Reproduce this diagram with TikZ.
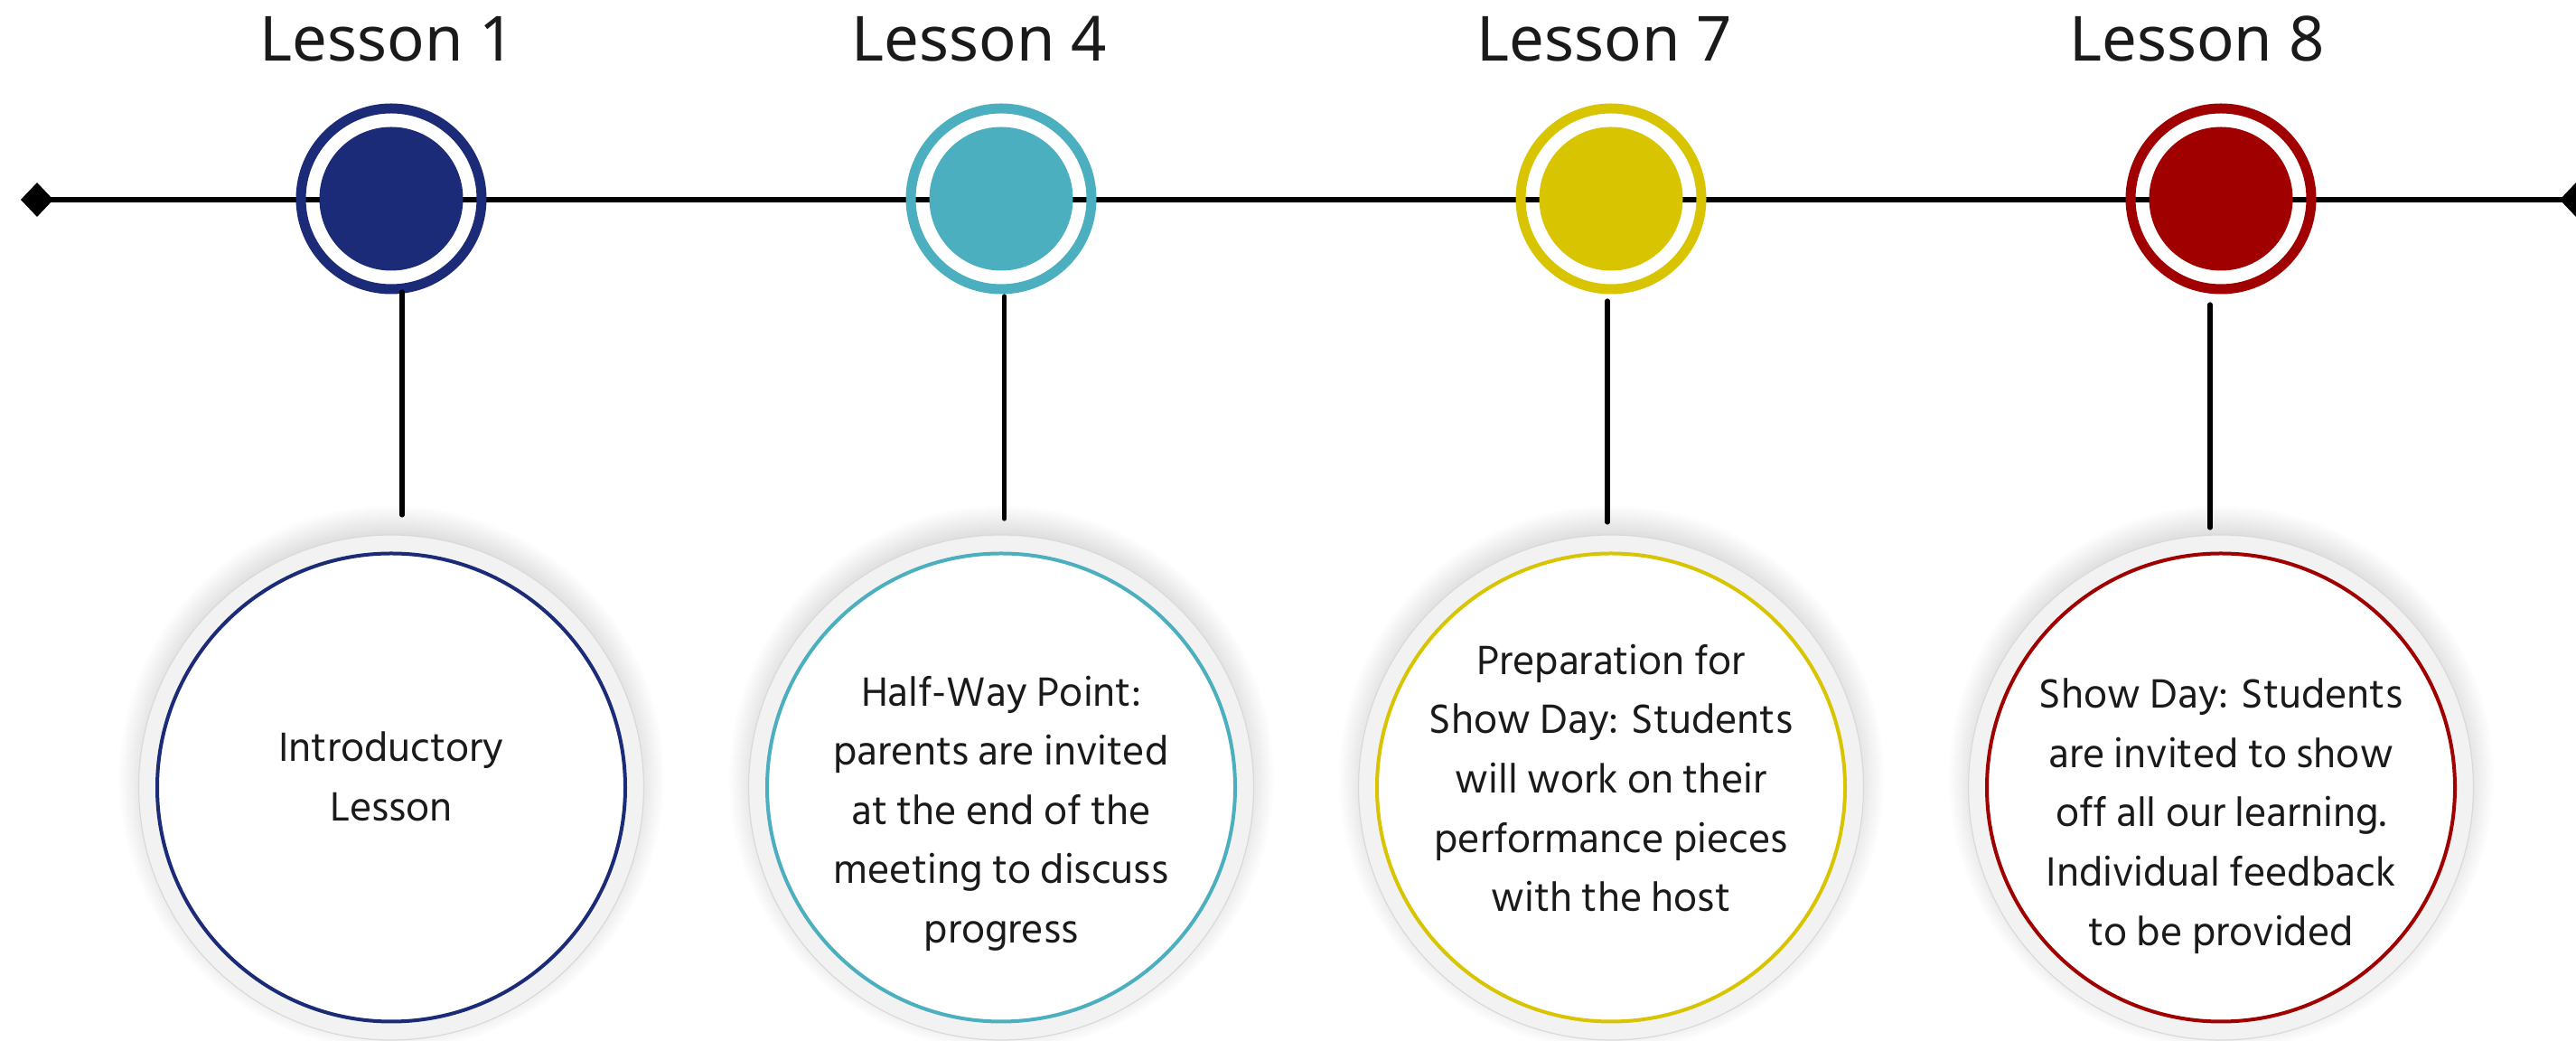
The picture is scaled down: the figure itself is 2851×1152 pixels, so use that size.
\documentclass[tikz,border=0pt]{standalone}
\usepackage{fontspec}
\setmainfont{Hind Siliguri}
\newfontfamily\headfont{Noto Sans}
\usetikzlibrary{arrows.meta,shadows}
\definecolor{lsn1}{HTML}{1B2B78}
\definecolor{lsn4}{HTML}{4BAFBF}
\definecolor{lsn7}{HTML}{D8C400}
\definecolor{lsn8}{HTML}{A00000}
\definecolor{ink}{HTML}{1A1A1A}
\definecolor{halo}{HTML}{F2F2F2}
\begin{document}
\begin{tikzpicture}[
  x=.25pt, y=-.25pt,
  milestone/.style={circle, minimum size=50pt, inner sep=0pt, outer sep=0pt,
    draw=#1, line width=2.75pt,
    path picture={\fill [#1] (path picture bounding box.center) circle (19.875pt);}},
  bubble/.style={circle, minimum size=139.75pt, inner sep=0pt, outer sep=0pt,
    fill=halo, draw=black!15, line width=.3pt,
    circular drop shadow={shadow xshift=0pt, shadow yshift=2.5pt,
      shadow scale=1.08, opacity=.35}},
  heading/.style={anchor=base, text=ink, font=\headfont\fontsize{17.2}{20}\selectfont},
  blurb/.style={align=center, text=ink, font=\fontsize{11.6}{16.4}\selectfont},
  stem/.style={line width=1.3pt, line cap=round}]
\useasboundingbox (0,0) rectangle (2851,1152);
\coordinate (tl-start) at (23,221);
\coordinate (tl-end) at (2869,221);
\draw [{Diamond[length=9pt,width=9.5pt]}-{Diamond[length=9pt,width=9.5pt]}, line width=1.6pt]
  (tl-start) -- (tl-end);
\foreach \i/\xm/\xh/\col/\dx/\st/\sb/\dy/\txt in {
  1/433/429/lsn1/12/3/22/3.1pt/{Introductory\\Lesson},
  4/1108/1084/lsn4/3.5/8/18/-7.2pt/{Half-Way Point:\\parents are invited\\at the end of the\\meeting to discuss\\progress},
  7/1783/1776/lsn7/-4/13/14/2.6pt/{Preparation for\\Show Day: Students\\will work on their\\performance pieces\\with the host},
  8/2458/2431.5/lsn8/-12/17/8/-7.9pt/{Show Day: Students\\are invited to show\\off all our learning.\\Individual feedback\\to be provided}}{
  \node [heading] (head\i) at (\xh,68) {Lesson \i};
  \node [milestone=\col] (mark\i) at (\xm,220) {};
  \node [bubble] (card\i) at (\xm,871.5) {};
  \draw [\col, line width=1pt, fill=white] (card\i) circle (64.75pt);
  \node [blurb] (note\i) at ([yshift=\dy]card\i.center) {\txt};
  \draw [stem, shorten <=\st*.25pt, shorten >=\sb*.25pt]
    ([xshift=\dx*.25pt]mark\i.south) -- ([xshift=\dx*.25pt]card\i.north);
}
\end{tikzpicture}
\end{document}
